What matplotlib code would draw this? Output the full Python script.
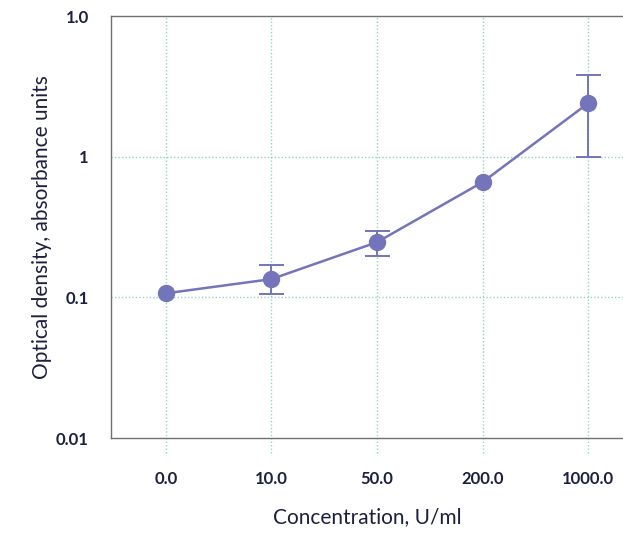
import matplotlib.pyplot as plt
import numpy as np

categories = ["0.0", "10.0", "50.0", "200.0", "1000.0"]
od_values = [0.107, 0.135, 0.247, 0.66, 2.40]
err_low = [0.107, 0.105, 0.197, 0.66, 1.0]
err_high = [0.107, 0.17, 0.296, 0.66, 3.8]
y_ticks = [0.01, 0.1, 1, 10]
y_tick_labels = ["0.01", "0.1", "1", "1.0"]

navy = "#1c1f3e"
purple = "#7474ba"
grid_green = "#8fd8bc"

plt.rcParams['font.family'] = ['Lato', 'DejaVu Sans']

fig = plt.figure(figsize=(6.23, 5.35), dpi=100)
ax = fig.add_axes([0.178, 0.181, 0.822, 0.789])

x = np.arange(len(categories))
od = np.array(od_values)
lo = od - np.array(err_low)
hi = np.array(err_high) - od
has_err = (lo > 0) | (hi > 0)

ax.plot(x, od, color=purple, marker="o", markersize=11.5, linewidth=1.8, zorder=3)
ax.errorbar(x[has_err], od[has_err], yerr=[lo[has_err], hi[has_err]], fmt="none",
            ecolor=purple, elinewidth=1.4, capsize=9, capthick=1.4, zorder=3)

ax.set_yscale("log")
ax.set_ylim(0.01, 10)
ax.set_xlim(-0.52, 4.33)
ax.set_yticks(y_ticks)
ax.set_yticklabels(y_tick_labels)
ax.minorticks_off()
ax.set_xticks(x)
ax.set_xticklabels(categories)

# dotted grid
for yv in [0.1, 1]:
    ax.axhline(yv, color=grid_green, linestyle=(0, (1, 1.5)), linewidth=1, zorder=1)
for xv in x:
    ax.plot([xv, xv], [-0.035, 1], transform=ax.get_xaxis_transform(), clip_on=False,
            color=grid_green, linestyle=(0, (1, 1.5)), linewidth=1, zorder=1)

ax.tick_params(axis="both", length=0, labelcolor=navy, labelsize=12)
ax.tick_params(axis="x", pad=24)
ax.tick_params(axis="y", pad=16)
for lab in ax.get_xticklabels() + ax.get_yticklabels():
    lab.set_fontweight("bold")

for side in ["left", "top", "bottom"]:
    ax.spines[side].set_color("#707070")
    ax.spines[side].set_linewidth(1)
ax.spines["right"].set_visible(False)

ax.set_xlabel("Concentration, U/ml", fontsize=15, color=navy, labelpad=14)
ax.set_ylabel("Optical density, absorbance units", fontsize=15, color=navy, labelpad=3)

fig.savefig("out.png", dpi=100)
